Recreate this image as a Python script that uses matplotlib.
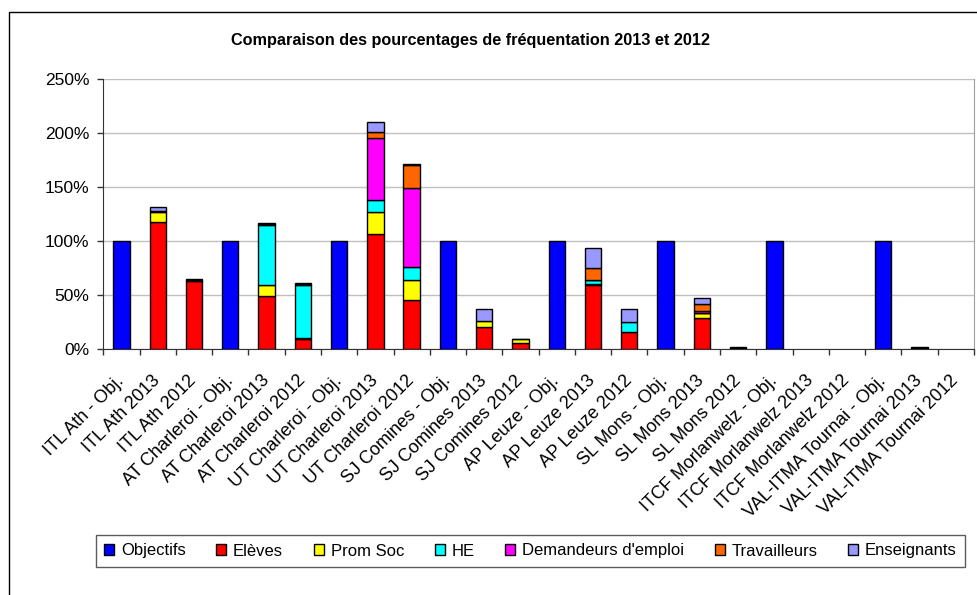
import numpy as np
import matplotlib
matplotlib.use("Agg")
import matplotlib.pyplot as plt
from matplotlib.patches import Rectangle
from matplotlib.ticker import FuncFormatter, MultipleLocator
from matplotlib.transforms import ScaledTranslation

plt.rcParams['font.family'] = ['Liberation Sans', 'DejaVu Sans']

categories = [
    "ITL Ath - Obj.", "ITL Ath 2013", "ITL Ath 2012",
    "AT Charleroi - Obj.", "AT Charleroi 2013", "AT Charleroi 2012",
    "UT Charleroi - Obj.", "UT Charleroi 2013", "UT Charleroi 2012",
    "SJ Comines - Obj.", "SJ Comines 2013", "SJ Comines 2012",
    "AP Leuze - Obj.", "AP Leuze 2013", "AP Leuze 2012",
    "SL Mons - Obj.", "SL Mons 2013", "SL Mons 2012",
    "ITCF Morlanwelz - Obj.", "ITCF Morlanwelz 2013", "ITCF Morlanwelz 2012",
    "VAL-ITMA Tournai - Obj.", "VAL-ITMA Tournai 2013", "VAL-ITMA Tournai 2012",
]

# values in %
objectifs   = [100, 0, 0, 100, 0, 0, 100, 0, 0, 100, 0, 0, 100, 0, 0, 100, 0, 0, 100, 0, 0, 100, 0, 0]
eleves      = [0, 117, 63, 0, 48.5, 9, 0, 106, 45, 0, 20, 5, 0, 59, 15.5, 0, 28, 0.5, 0, 0, 0, 0, 0.5, 0]
prom_soc    = [0, 10, 0.5, 0, 10.5, 1, 0, 21, 19, 0, 6, 3.5, 0, 0.5, 0, 0, 5, 0.3, 0, 0, 0, 0, 0.3, 0]
he          = [0, 0, 0.5, 0, 56, 49, 0, 11, 12, 0, 0, 0, 0, 4, 9, 0, 0.5, 0, 0, 0, 0, 0, 0, 0]
demandeurs  = [0, 0.5, 0, 0, 0.5, 0, 0, 57, 73, 0, 0, 0, 0, 0.5, 0, 0, 1, 0, 0, 0, 0, 0, 0, 0]
travailleurs = [0, 0.5, 0.5, 0, 1, 1, 0, 6, 21, 0, 0, 0.3, 0, 11, 0, 0, 6.5, 0.3, 0, 0, 0, 0, 0.3, 0]
enseignants = [0, 3, 0, 0, 0, 0.5, 0, 9, 1.5, 0, 10.5, 0, 0, 18, 12, 0, 6, 0, 0, 0, 0, 0, 0, 0]

series = [
    ("Objectifs", objectifs, "#0000FF"),
    ("Elèves", eleves, "#FF0000"),
    ("Prom Soc", prom_soc, "#FFFF00"),
    ("HE", he, "#00FFFF"),
    ("Demandeurs d'emploi", demandeurs, "#FF00FF"),
    ("Travailleurs", travailleurs, "#FF6600"),
    ("Enseignants", enseignants, "#9999FF"),
]

fig = plt.figure(figsize=(9.78, 5.95), dpi=100)
ax = fig.add_axes([0.1056, 0.4140, 0.8903, 0.4533])

x = np.arange(len(categories))
bottom = np.zeros(len(categories))
handles = []
for name, vals, col in series:
    v = np.array(vals, dtype=float)
    h = np.where(v > 0, v, np.nan)
    b = ax.bar(x, h, 0.45, bottom=bottom, color=col, edgecolor="black",
               linewidth=1.0, label=name, zorder=3)
    handles.append(b)
    bottom = bottom + v

ax.set_xlim(-0.5, len(categories) - 0.5)
ax.set_ylim(0, 250)
ax.yaxis.set_major_locator(MultipleLocator(50))
ax.yaxis.set_major_formatter(FuncFormatter(lambda v, p: f"{v:.0f}%"))
ax.grid(axis="y", color="#C0C0C0", linewidth=1.0, zorder=0)

# category labels, rotated, placed just under each bar slot
ax.set_xticks(x)
ax.tick_params(axis="x", which="major", length=0, labelbottom=False)
off = ScaledTranslation(-0.06, -0.235, fig.dpi_scale_trans)
for i, lab in enumerate(categories):
    ax.text(i, 0, lab, transform=ax.get_xaxis_transform() + off, rotation=45,
            ha="right", va="top", rotation_mode="anchor", fontsize=13)

ax.set_xticks(np.arange(-0.5, len(categories)), minor=True)
ax.tick_params(axis="x", which="minor", length=4, width=1, color="#333333", direction="out")
ax.tick_params(axis="y", length=4, width=1, color="#333333", labelsize=12.5, pad=6)

ax.spines["top"].set_visible(False)
ax.spines["right"].set_color("#A0A0A0")
ax.spines["left"].set_color("#333333")
ax.spines["bottom"].set_color("#333333")

fig.text(471 / 978, 1 - 40 / 595, "Comparaison des pourcentages de fréquentation 2013 et 2012",
         ha="center", va="center", fontsize=11.7, fontweight="bold")

leg = fig.legend(handles=handles, loc="center", bbox_to_anchor=(530.5 / 978, 1 - 551 / 595),
                 ncol=7, fontsize=12, frameon=True, fancybox=False, shadow=False,
                 handlelength=0.6, handleheight=0.6, handletextpad=0.4,
                 columnspacing=1.85, borderpad=0.5)
leg.get_frame().set_edgecolor("#333333")
leg.get_frame().set_linewidth(1.0)

# chart area border
fig.add_artist(Rectangle((8.5 / 978, -0.05), 1.2, 1.05 - 12.5 / 595, transform=fig.transFigure,
                         fill=False, edgecolor="black", linewidth=1.0))

fig.savefig("out.png", dpi=100)
